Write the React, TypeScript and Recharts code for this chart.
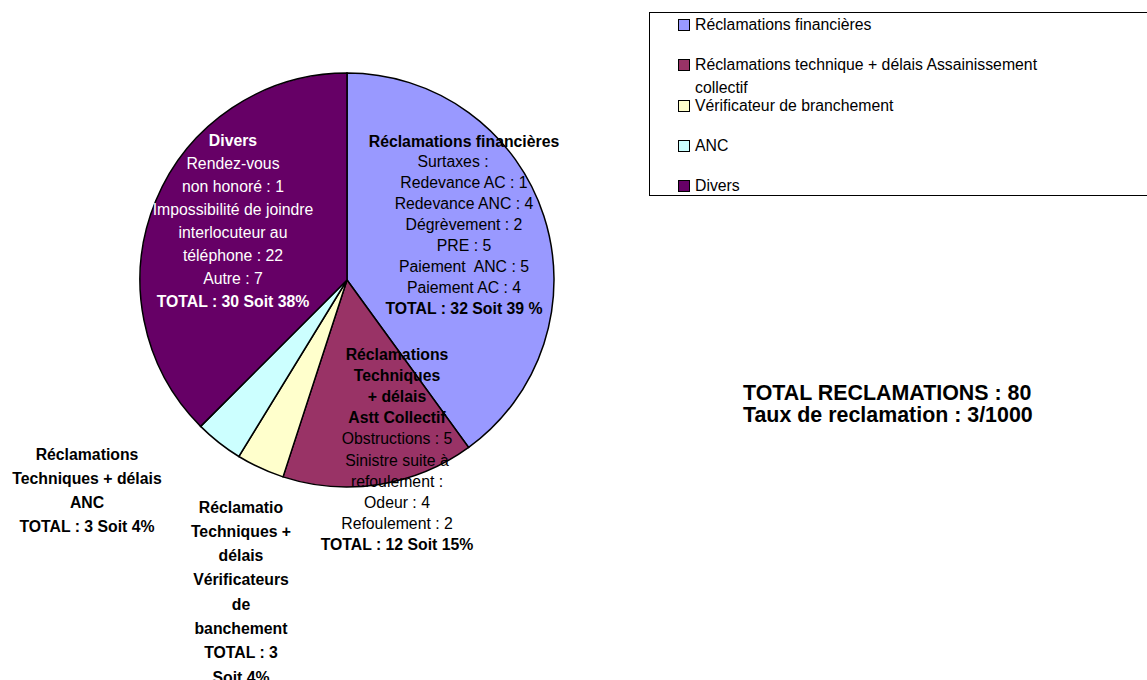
import { PieChart, Pie, Cell, Legend } from 'recharts';

// catégories et valeurs
const categories = [
  'Réclamations financières',
  'Réclamations technique + délais Assainissement collectif',
  'Vérificateur de branchement',
  'ANC',
  'Divers',
];
const counts = [32, 12, 3, 3, 30];
const sliceColors = ['#9999FF', '#993366', '#FFFFCC', '#CCFFFF', '#660066'];

// textes des étiquettes ("*" = gras)
const labelsFinancieres = [
  '*Réclamations financières',
  'Surtaxes :     ',
  'Redevance AC : 1',
  'Redevance ANC : 4',
  'Dégrèvement : 2',
  'PRE : 5',
  'Paiement  ANC : 5',
  'Paiement AC : 4',
  '*TOTAL : 32 Soit 39 %',
];
const labelsTechniques = [
  '*Réclamations',
  '*Techniques',
  '*+ délais',
  '*Astt Collectif',
  'Obstructions : 5',
  'Sinistre suite à',
  'refoulement :',
  'Odeur : 4',
  'Refoulement : 2',
  '*TOTAL : 12 Soit 15%',
];
const labelsVerif = [
  '*Réclamatio',
  '*Techniques +',
  '*délais',
  '*Vérificateurs',
  '*de',
  '*banchement',
  '*TOTAL : 3',
  '*Soit 4%',
];
const labelsANC = [
  '*Réclamations',
  '*Techniques + délais',
  '*ANC',
  '*TOTAL : 3 Soit 4%',
];
const labelsDivers = [
  '*Divers',
  'Rendez-vous',
  'non honoré : 1',
  'Impossibilité de joindre',
  'interlocuteur au',
  'téléphone : 22',
  'Autre : 7',
  '*TOTAL : 30 Soit 38%',
];
const sliceLabels = [labelsFinancieres, labelsTechniques, labelsVerif, labelsANC, labelsDivers];
const summaryLines = ['TOTAL RECLAMATIONS : 80', 'Taux de reclamation : 3/1000'];

const data = categories.map((name, i) => ({ name, value: counts[i] }));

const FONT = '"Liberation Sans", Arial, sans-serif';
const CX = 347;
const CY = 280;
const R = 207;

// position des blocs de texte par rapport au centre : dx, dy (1re ligne), interligne
const labelLayout = [
  { dx: 117, dy: -133.5, lh: 20.9, fill: '#000' },
  { dx: 50, dy: 79.5, lh: 21.2, fill: '#000' },
  { dx: -106, dy: 232.5, lh: 24.3, fill: '#000' },
  { dx: -260, dy: 179.5, lh: 24.3, fill: '#000' },
  { dx: -114, dy: -134.5, lh: 23.1, fill: '#fff' },
];

const renderLabel = (props: any) => {
  const { cx, cy, index } = props;
  const lay = labelLayout[index];
  const lines = sliceLabels[index];
  return (
    <text
      key={`lbl-${index}`}
      x={cx + lay.dx}
      y={cy + lay.dy}
      textAnchor="middle"
      fill={lay.fill}
      fontFamily={FONT}
      fontSize={15.8}
      style={{ whiteSpace: 'pre' }}
    >
      {lines.map((l, i) => {
        const bold = l.startsWith('*');
        return (
          <tspan
            key={i}
            x={cx + lay.dx}
            y={cy + lay.dy + i * lay.lh}
            fontWeight={bold ? 'bold' : 'normal'}
          >
            {bold ? l.slice(1) : l}
          </tspan>
        );
      })}
    </text>
  );
};

const renderLegend = () => (
  <div
    style={{
      position: 'relative',
      width: 520,
      height: 184,
      border: '1px solid #000',
      boxSizing: 'border-box',
      background: '#fff',
      fontFamily: FONT,
      fontSize: 15.8,
      color: '#000',
    }}
  >
    {categories.map((c, i) => (
      <div
        key={c}
        style={{
          position: 'absolute',
          left: 28,
          top: i * 40.3,
          width: 370,
          display: 'flex',
          alignItems: 'flex-start',
          lineHeight: '23px',
        }}
      >
        <span
          style={{
            display: 'inline-block',
            width: 10,
            height: 10,
            marginTop: 6,
            marginRight: 5,
            flex: 'none',
            background: sliceColors[i],
            border: '1px solid #000',
          }}
        />
        <span>{c}</span>
      </div>
    ))}
  </div>
);

export default function App() {
  return (
    <div
      style={{
        position: 'absolute',
        left: 0,
        top: 0,
        width: 1147,
        height: 680,
        overflow: 'hidden',
        background: '#fff',
      }}
    >
      <PieChart width={1147} height={680} margin={{ top: 0, right: 0, bottom: 0, left: 0 }}>
        <Pie
          data={data}
          dataKey="value"
          nameKey="name"
          cx={CX}
          cy={CY}
          outerRadius={R}
          startAngle={90}
          endAngle={-270}
          stroke="#000"
          strokeWidth={1.5}
          label={renderLabel}
          labelLine={false}
          isAnimationActive={false}
        >
          {data.map((_, i) => (
            <Cell key={`cell-${i}`} fill={sliceColors[i]} />
          ))}
        </Pie>
        <Legend
          content={renderLegend}
          layout="vertical"
          align="right"
          verticalAlign="top"
          wrapperStyle={{ position: 'absolute', left: 649, top: 12, width: 520, height: 190 }}
        />
      </PieChart>
      <div
        style={{
          position: 'absolute',
          left: 743,
          top: 382,
          fontFamily: FONT,
          fontWeight: 'bold',
          fontSize: 21.4,
          lineHeight: '22px',
          color: '#000',
          whiteSpace: 'nowrap',
        }}
      >
        {summaryLines.map((l) => (
          <div key={l}>{l}</div>
        ))}
      </div>
    </div>
  );
}
